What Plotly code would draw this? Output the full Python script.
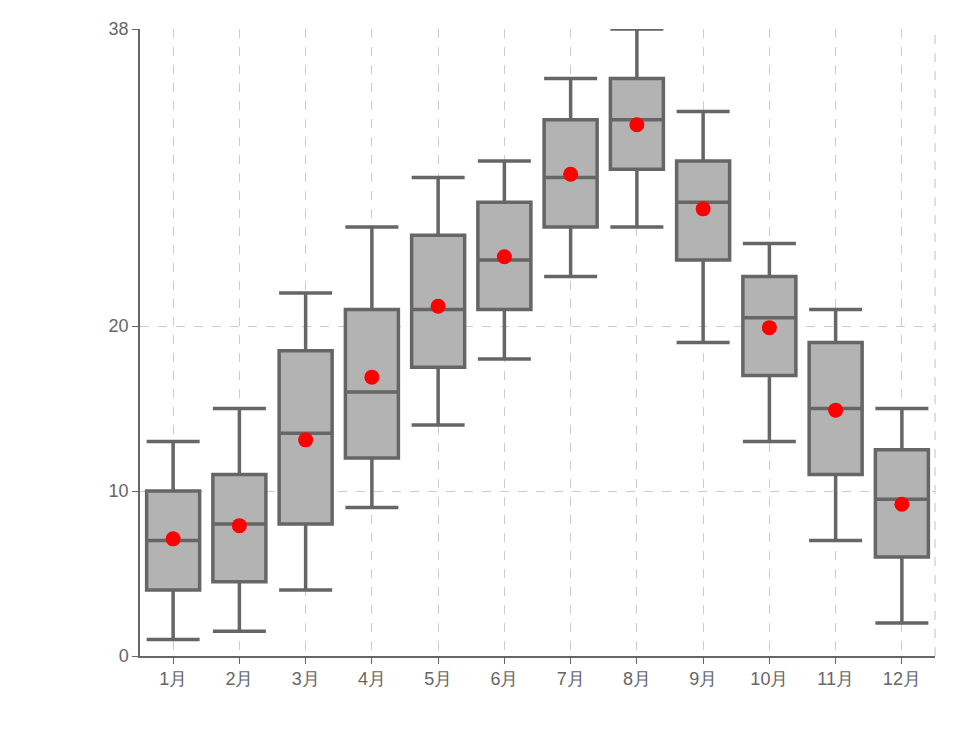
import plotly.graph_objects as go

months = ["1月","2月","3月","4月","5月","6月","7月","8月","9月","10月","11月","12月"]
lower = [1, 1.5, 4, 9, 14, 18, 23, 26, 19, 13, 7, 2]
q1 = [4, 4.5, 8, 12, 17.5, 21, 26, 29.5, 24, 17, 11, 6]
median = [7, 8, 13.5, 16, 21, 24, 29, 32.5, 27.5, 20.5, 15, 9.5]
q3 = [10, 11, 18.5, 21, 25.5, 27.5, 32.5, 35, 30, 23, 19, 12.5]
upper = [13, 15, 22, 26, 29, 30, 35, 38, 33, 25, 21, 15]
mean = [7.1, 7.9, 13.1, 16.9, 21.2, 24.2, 29.2, 32.2, 27.1, 19.9, 14.9, 9.2]

fig = go.Figure()
fig.add_trace(go.Box(x=months, q1=q1, median=median, q3=q3, lowerfence=lower, upperfence=upper,
                     boxpoints=False, fillcolor="#b3b3b3", line=dict(color="#666666", width=3.5),
                     whiskerwidth=1, width=0.8, hoverinfo="skip"))
fig.add_trace(go.Scatter(x=months, y=mean, mode="markers",
                         marker=dict(color="red", size=15)))
fig.update_layout(
    width=956, height=736, showlegend=False, plot_bgcolor="white", paper_bgcolor="white",
    margin=dict(l=132, r=29, t=11, b=88),
    font=dict(family="Liberation Sans, Arial", size=18, color="#666666"),
    xaxis=dict(range=[-0.5, 11.5], showgrid=True, gridcolor="#cccccc", griddash="dash", gridwidth=1.2,
               showline=True, linecolor="#666666", linewidth=1.5, ticks="outside",
               ticklen=6, tickcolor="#666666", tickfont=dict(size=18)),
    yaxis=dict(range=[0, 38], tickvals=[0, 10, 20, 38], showgrid=True, gridcolor="#cccccc",
               griddash="dash", gridwidth=1.2, zeroline=False, showline=True, linecolor="#666666",
               linewidth=1.5, ticks="outside", ticklen=6, tickcolor="#666666", tickfont=dict(size=18)),
    shapes=[dict(type="line", xref="paper", yref="paper", x0=1, x1=1, y0=0, y1=1,
                 line=dict(color="#cccccc", width=1.2, dash="dash"))],
)
fig.write_html("out.html")
